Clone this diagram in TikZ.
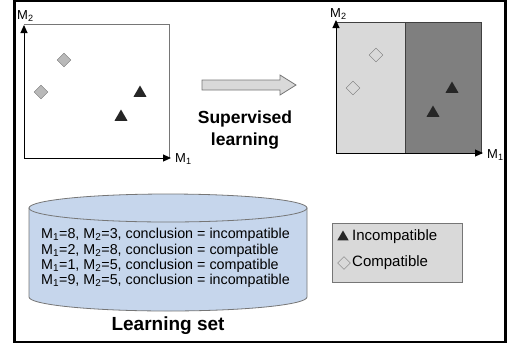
\documentclass[tikz,border=0pt]{standalone}
\usepackage{fontspec}
\setmainfont{Liberation Sans}
\usetikzlibrary{shapes.geometric,arrows.meta,positioning}
\definecolor{lightgrey}{RGB}{217,217,217}
\definecolor{darkgrey}{RGB}{127,127,127}
\definecolor{markgrey}{RGB}{185,185,185}
\definecolor{edgegrey}{RGB}{118,118,118}
\definecolor{setblue}{RGB}{198,214,236}
\newcommand\Msub[1]{M\textsubscript{#1}}
\tikzset{
  compatible/.style   = {diamond, draw=edgegrey, fill=markgrey,
                         minimum size=14pt, inner sep=0pt},
  compatlight/.style  = {compatible, fill=lightgrey},
  incompatible/.style = {regular polygon, regular polygon sides=3,
                         fill=black!85, minimum size=15pt, inner sep=0pt},
  axis/.style         = {-{Triangle[length=8pt,width=7pt]}, line width=1pt},
  axlabel/.style      = {font=\fontsize{13}{15}\selectfont, inner sep=0pt},
  rows/.style         = {font=\fontsize{14.3}{15.4}\selectfont, align=left,
                         inner sep=0pt},
  legendtext/.style   = {font=\fontsize{15}{17}\selectfont, inner sep=0pt},
  heading/.style      = {font=\fontsize{17.5}{22}\selectfont\bfseries,
                         align=center, inner sep=0pt}
}
\begin{document}
\begin{tikzpicture}[x=1pt,y=-1pt]
  \useasboundingbox (0,0) rectangle (509,349);
  \draw[line width=2.2pt] (14.5,1.1) rectangle (505.5,342);

  % left plot
  \coordinate (o1) at (24,158);
  \coordinate (y1) at (24,25);
  \coordinate (x1) at (171,158);
  \draw[edgegrey, line width=0.8pt] (24,24.5) -| (169,158);
  \draw[axis] (o1) -- (y1);
  \draw[axis] (o1) -- (x1);
  \node[axlabel, anchor=south west] (m2a) at (17,22) {\Msub{2}};
  \node[axlabel, anchor=west] (m1a) at (175,159) {\Msub{1}};
  \foreach \x/\y [count=\i] in {64/60, 41/92}
    \node[compatible] (cl\i) at (\x,\y) {};
  \foreach \x/\y [count=\i] in {140/93, 121/117}
    \node[incompatible] (il\i) at (\x,\y) {};

  % arrow + caption
  \draw[edgegrey, fill=lightgrey, line width=0.8pt]
    (202,80) -- (280,80) -- (280,75) -- (296,85) -- (280,95)
    -- (280,90) -- (202,90) -- cycle;
  \node[heading] (learn) at (245,130) {Supervised\\learning};

  % right plot
  \draw[black!75, fill=lightgrey, line width=0.8pt] (336,22) rectangle (405,153);
  \draw[black!75, fill=darkgrey, line width=0.8pt] (405,22) rectangle (481,153);
  \coordinate (o2) at (336,153);
  \coordinate (y2) at (336,20);
  \coordinate (x2) at (483,153);
  \draw[axis] (o2) -- (y2);
  \draw[axis] (o2) -- (x2);
  \node[axlabel, anchor=south west] (m2b) at (330,20) {\Msub{2}};
  \node[axlabel, anchor=west] (m1b) at (487,155) {\Msub{1}};
  \foreach \x/\y [count=\i] in {376/55, 353/88}
    \node[compatlight] (cr\i) at (\x,\y) {};
  \foreach \x/\y [count=\i] in {452/89, 433/113}
    \node[incompatible] (ir\i) at (\x,\y) {};

  % learning set
  \draw[edgegrey, fill=setblue, line width=0.8pt]
    (29,208) -- (29,297) arc[start angle=180, end angle=0,
    x radius=139, y radius=14] -- (307,208) -- cycle;
  \draw[edgegrey, fill=setblue, line width=0.8pt]
    (168,208) ellipse[x radius=139, y radius=14];
  \node[rows, anchor=west] (set) at (41,258)
    {\Msub{1}=8, \Msub{2}=3, conclusion = incompatible\\
     \Msub{1}=2, \Msub{2}=8, conclusion = compatible\\
     \Msub{1}=1, \Msub{2}=5, conclusion = compatible\\
     \Msub{1}=9, \Msub{2}=5, conclusion = incompatible};
  \node[heading, font=\fontsize{19}{22}\selectfont\bfseries] (title)
    at (168,326) {Learning set};

  % legend
  \node[draw=edgegrey, fill=lightgrey, minimum width=130pt,
        minimum height=59pt] (legend) at (397,252.5) {};
  \node[incompatible, minimum size=13pt] (li) at (343,237) {};
  \node[legendtext, anchor=west] (lit) at (352,237) {Incompatible};
  \node[compatlight, minimum size=13pt] (lc) at (344,263) {};
  \node[legendtext, anchor=west] (lct) at (352,263) {Compatible};
\end{tikzpicture}
\end{document}
